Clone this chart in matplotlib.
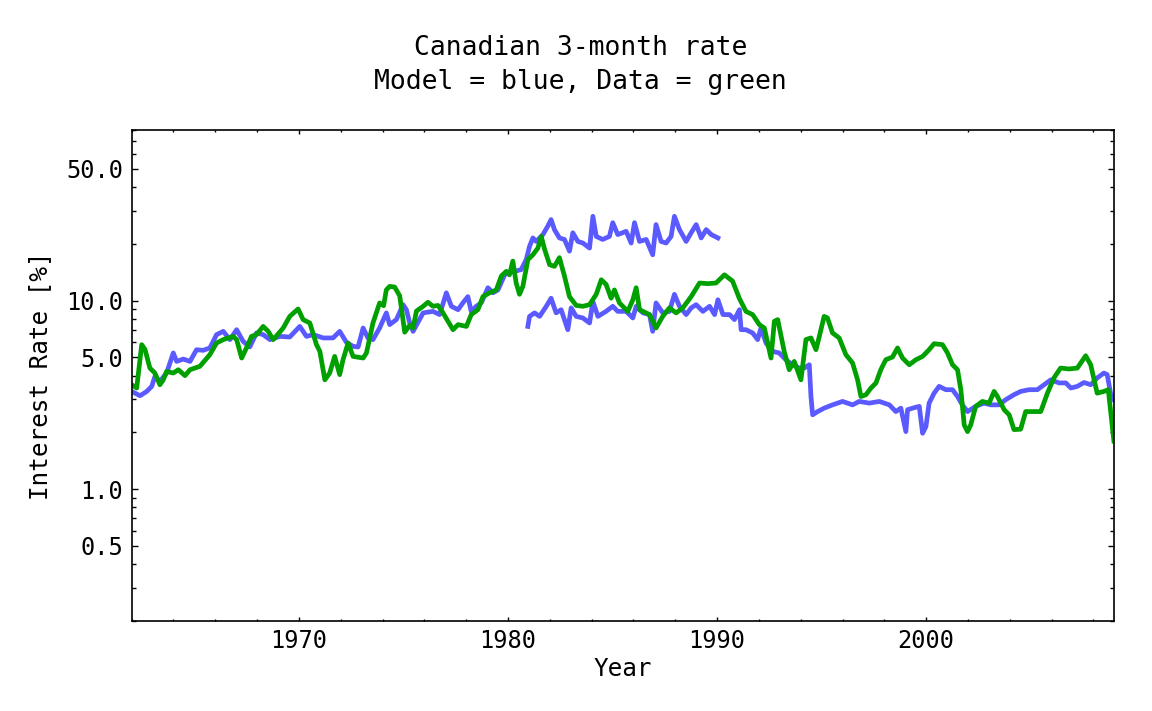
import numpy as np
import matplotlib
matplotlib.use('Agg')
import matplotlib.pyplot as plt
from matplotlib.ticker import FixedLocator, FixedFormatter, MultipleLocator, NullFormatter

plt.rcParams['font.family'] = ['DejaVu Sans Mono']

# Data (green): year, rate in percent.
data_year = [1962.00, 1962.24, 1962.48, 1962.64, 1962.87, 1963.11, 1963.35, 1963.51, 1963.67, 1963.99,
             1964.23, 1964.55, 1964.79, 1965.26, 1965.74, 1966.06, 1966.38, 1966.85, 1967.02, 1967.26,
             1967.49, 1967.73, 1967.97, 1968.29, 1968.53, 1968.77, 1969.25, 1969.56, 1969.96, 1970.20,
             1970.52, 1970.84, 1971.00, 1971.24, 1971.47, 1971.71, 1971.95, 1972.11, 1972.35, 1972.59,
             1973.07, 1973.23, 1973.54, 1973.86, 1974.05, 1974.18, 1974.34, 1974.58, 1974.82, 1974.98,
             1975.06, 1975.30, 1975.46, 1975.62, 1975.94, 1976.17, 1976.41, 1976.65, 1976.89, 1977.13,
             1977.37, 1977.61, 1978.01, 1978.24, 1978.56, 1978.80, 1979.12, 1979.44, 1979.68, 1979.92,
             1980.07, 1980.23, 1980.39, 1980.55, 1980.71, 1980.95, 1981.19, 1981.43, 1981.59, 1981.75,
             1981.99, 1982.22, 1982.46, 1982.70, 1982.94, 1983.26, 1983.58, 1983.90, 1984.22, 1984.46,
             1984.69, 1984.93, 1985.09, 1985.33, 1985.73, 1985.97, 1986.13, 1986.29, 1986.77, 1987.08,
             1987.40, 1987.72, 1988.04, 1988.36, 1988.76, 1989.16, 1989.55, 1989.95, 1990.35, 1990.74,
             1991.06, 1991.38, 1991.70, 1992.02, 1992.26, 1992.58, 1992.74, 1992.90, 1993.21, 1993.45,
             1993.69, 1994.01, 1994.25, 1994.49, 1994.73, 1994.89, 1995.12, 1995.28, 1995.52, 1995.84,
             1996.16, 1996.48, 1996.72, 1996.88, 1997.12, 1997.36, 1997.60, 1997.83, 1998.07, 1998.39,
             1998.63, 1998.87, 1999.19, 1999.51, 1999.83, 2000.14, 2000.38, 2000.78, 2001.02, 2001.26,
             2001.50, 2001.66, 2001.82, 2001.98, 2002.13, 2002.37, 2002.69, 2003.01, 2003.25, 2003.41,
             2003.73, 2003.97, 2004.20, 2004.52, 2004.76, 2005.08, 2005.48, 2005.80, 2006.11, 2006.43,
             2006.83, 2007.23, 2007.63, 2007.87, 2008.18, 2008.50, 2008.71, 2008.98]
data_rate = [3.58, 3.44, 5.84, 5.50, 4.39, 4.13, 3.58, 3.80, 4.21, 4.13,
             4.30, 4.00, 4.30, 4.48, 5.17, 5.96, 6.21, 6.46, 6.21, 4.96,
             5.61, 6.46, 6.60, 7.30, 6.87, 6.21, 7.16, 8.25, 9.03, 7.93,
             7.61, 5.84, 5.38, 3.80, 4.13, 5.06, 4.05, 4.86, 5.96, 5.06,
             4.96, 5.28, 7.61, 9.72, 9.40, 11.4, 11.9, 11.8, 10.6, 7.93,
             6.80, 7.40, 7.16, 8.80, 9.33, 9.80, 9.33, 9.43, 8.61, 7.77,
             7.01, 7.46, 7.30, 8.43, 8.95, 10.5, 11.0, 11.4, 13.5, 14.3,
             13.7, 16.2, 12.4, 10.8, 11.9, 16.5, 17.5, 19.0, 21.9, 18.7,
             15.5, 15.2, 16.9, 13.5, 10.5, 9.43, 9.33, 9.52, 10.8, 12.9,
             12.2, 10.3, 11.4, 9.72, 8.77, 10.1, 11.7, 8.95, 8.43, 7.16,
             8.25, 9.15, 8.61, 9.15, 10.5, 12.4, 12.3, 12.4, 13.7, 12.7,
             10.3, 8.77, 8.43, 7.46, 7.16, 4.96, 7.77, 7.93, 5.38, 4.30,
             4.76, 3.80, 6.21, 6.34, 5.49, 6.46, 8.25, 8.09, 6.74, 6.34,
             5.17, 4.67, 3.80, 3.10, 3.17, 3.44, 3.66, 4.30, 4.86, 5.02,
             5.61, 4.96, 4.57, 4.86, 5.06, 5.49, 5.91, 5.84, 5.28, 4.57,
             4.30, 3.37, 2.19, 2.02, 2.19, 2.75, 2.92, 2.86, 3.30, 3.10,
             2.64, 2.48, 2.07, 2.08, 2.58, 2.58, 2.58, 3.23, 3.89, 4.39,
             4.34, 4.39, 5.10, 4.57, 3.23, 3.30, 3.37, 1.80]

# Model (blue), first run 1962-1990.
model1_year = [1962.00, 1962.40, 1962.72, 1962.96, 1963.11, 1963.35, 1963.67, 1963.99, 1964.15, 1964.47,
               1964.79, 1965.10, 1965.42, 1965.74, 1966.06, 1966.38, 1966.70, 1967.02, 1967.33, 1967.65,
               1967.97, 1968.29, 1968.61, 1969.09, 1969.56, 1970.04, 1970.36, 1970.68, 1971.16, 1971.63,
               1971.95, 1972.27, 1972.59, 1972.83, 1973.07, 1973.30, 1973.54, 1973.86, 1974.18, 1974.34,
               1974.66, 1974.98, 1975.14, 1975.30, 1975.46, 1975.94, 1976.41, 1976.73, 1977.05, 1977.29,
               1977.61, 1977.84, 1978.08, 1978.24, 1978.48, 1978.72, 1979.04, 1979.28, 1979.52, 1979.84,
               1980.07, 1980.31, 1980.63, 1980.87, 1981.03, 1981.19, 1981.35, 1981.67, 1981.90, 1982.06,
               1982.22, 1982.46, 1982.70, 1982.94, 1983.10, 1983.34, 1983.58, 1983.90, 1984.06, 1984.22,
               1984.53, 1984.85, 1985.01, 1985.25, 1985.65, 1985.89, 1986.05, 1986.29, 1986.61, 1986.92,
               1987.08, 1987.32, 1987.56, 1987.80, 1987.96, 1988.20, 1988.52, 1988.76, 1989.00, 1989.24,
               1989.48, 1989.72, 1990.04]
model1_rate = [3.30, 3.13, 3.30, 3.51, 3.96, 3.73, 4.13, 5.28, 4.76, 4.90,
               4.76, 5.49, 5.45, 5.61, 6.60, 6.87, 6.21, 7.01, 6.08, 5.68,
               6.74, 6.60, 6.21, 6.46, 6.41, 7.30, 6.46, 6.60, 6.34, 6.34,
               6.87, 6.01, 5.72, 5.68, 7.16, 6.34, 6.21, 7.16, 8.61, 7.46,
               7.93, 9.52, 8.95, 7.61, 6.87, 8.61, 8.77, 8.43, 11.0, 9.33,
               8.95, 9.72, 10.5, 8.77, 9.33, 9.72, 11.7, 11.0, 11.4, 13.7,
               14.1, 14.3, 14.6, 16.5, 19.4, 21.5, 20.6, 22.4, 24.8, 26.9,
               23.8, 21.5, 21.1, 18.3, 22.9, 20.6, 20.2, 19.0, 28.0, 21.9,
               21.1, 21.9, 25.9, 22.4, 23.3, 20.2, 25.9, 20.6, 21.1, 17.5,
               25.3, 20.6, 20.2, 21.9, 28.0, 23.8, 20.6, 22.9, 25.3, 21.5,
               23.8, 22.4, 21.5]

# Model (blue), second run 1981-2009.
model2_year = [1980.95, 1981.03, 1981.27, 1981.51, 1981.83, 1982.06, 1982.30, 1982.54, 1982.86, 1983.02,
               1983.26, 1983.58, 1983.90, 1984.06, 1984.30, 1984.69, 1985.01, 1985.25, 1985.65, 1985.97,
               1986.13, 1986.45, 1986.77, 1986.92, 1987.08, 1987.40, 1987.72, 1987.96, 1988.20, 1988.52,
               1988.76, 1989.00, 1989.32, 1989.64, 1989.88, 1990.04, 1990.28, 1990.60, 1990.83, 1991.07,
               1991.15, 1991.38, 1991.70, 1991.94, 1992.10, 1992.34, 1992.65, 1992.97, 1993.29, 1993.61,
               1993.93, 1994.17, 1994.41, 1994.49, 1994.57, 1994.81, 1995.12, 1995.52, 1996.00, 1996.48,
               1996.80, 1997.28, 1997.76, 1998.24, 1998.55, 1998.79, 1999.03, 1999.11, 1999.35, 1999.67,
               1999.83, 1999.99, 2000.14, 2000.38, 2000.62, 2000.94, 2001.26, 2001.50, 2001.73, 2001.98,
               2002.37, 2002.77, 2003.08, 2003.48, 2003.80, 2004.20, 2004.52, 2004.92, 2005.32, 2005.64,
               2005.96, 2006.36, 2006.68, 2006.92, 2007.23, 2007.55, 2007.87, 2008.18, 2008.50, 2008.66,
               2008.82, 2008.98]
model2_rate = [7.30, 8.25, 8.61, 8.25, 9.33, 10.3, 8.61, 8.95, 7.01, 9.15,
               8.25, 8.09, 7.61, 9.90, 8.25, 8.77, 9.33, 8.77, 8.77, 8.09,
               9.33, 8.61, 8.43, 6.87, 9.72, 8.61, 8.77, 10.8, 9.33, 8.43,
               9.15, 9.52, 8.77, 9.33, 8.43, 10.1, 8.43, 8.43, 7.93, 8.95,
               7.01, 7.01, 6.74, 6.21, 7.16, 5.96, 5.38, 5.28, 4.86, 4.57,
               4.39, 4.39, 4.57, 3.10, 2.48, 2.58, 2.69, 2.80, 2.92, 2.80,
               2.92, 2.86, 2.92, 2.80, 2.58, 2.69, 2.02, 2.64, 2.69, 2.75,
               1.98, 2.15, 2.86, 3.23, 3.51, 3.37, 3.37, 3.10, 2.80, 2.58,
               2.75, 2.86, 2.80, 2.80, 2.98, 3.17, 3.30, 3.37, 3.37, 3.58,
               3.80, 3.66, 3.66, 3.44, 3.51, 3.68, 3.58, 3.89, 4.13, 4.05,
               3.23, 2.98]

y_ticks = [0.5, 1.0, 5.0, 10.0, 50.0]
y_tick_labels = ['0.5', '1.0', '5.0', '10.0', '50.0']
x_ticks = [1970, 1980, 1990, 2000]

blue = '#5a5aff'
green = '#00a000'

fig = plt.figure(figsize=(11.52, 7.11), dpi=100)
ax = fig.add_axes([0.1143, 0.1266, 0.8530, 0.6901])

ax.plot(model1_year, model1_rate, color=blue, lw=3.4, solid_joinstyle='round')
ax.plot(model2_year, model2_rate, color=blue, lw=3.4, solid_joinstyle='round')
ax.plot(data_year, data_rate, color=green, lw=3.4, solid_joinstyle='round')

ax.set_yscale('log')
ax.set_xlim(1962, 2009)
ax.set_ylim(0.2, 80)

ax.yaxis.set_major_locator(FixedLocator(y_ticks))
ax.yaxis.set_major_formatter(FixedFormatter(y_tick_labels))
minor_y = [m * 10.0 ** e for e in (-1, 0, 1) for m in range(2, 10)]
minor_y = [v for v in minor_y if v not in y_ticks]
ax.yaxis.set_minor_locator(FixedLocator(minor_y))
ax.yaxis.set_minor_formatter(NullFormatter())

ax.xaxis.set_major_locator(FixedLocator(x_ticks))
ax.xaxis.set_minor_locator(MultipleLocator(2))

ax.tick_params(which='both', direction='in', top=True, right=True, labelsize=17, width=1.0, pad=6)
ax.tick_params(axis='y', which='major', length=4)
ax.tick_params(axis='y', which='minor', length=3)
ax.tick_params(axis='x', which='major', length=3)
ax.tick_params(axis='x', which='minor', length=1.6)
for s in ax.spines.values():
    s.set_linewidth(1.2)

ax.set_xlabel('Year', fontsize=17.5, labelpad=3)
ax.set_ylabel('Interest Rate [%]', fontsize=17.5, labelpad=10)

fig.text(0.504, 0.932, 'Canadian 3-month rate', ha='center', va='center', fontsize=19)
fig.text(0.504, 0.885, 'Model = blue, Data = green', ha='center', va='center', fontsize=19)

fig.savefig('out.png', dpi=100)
plt.close(fig)
